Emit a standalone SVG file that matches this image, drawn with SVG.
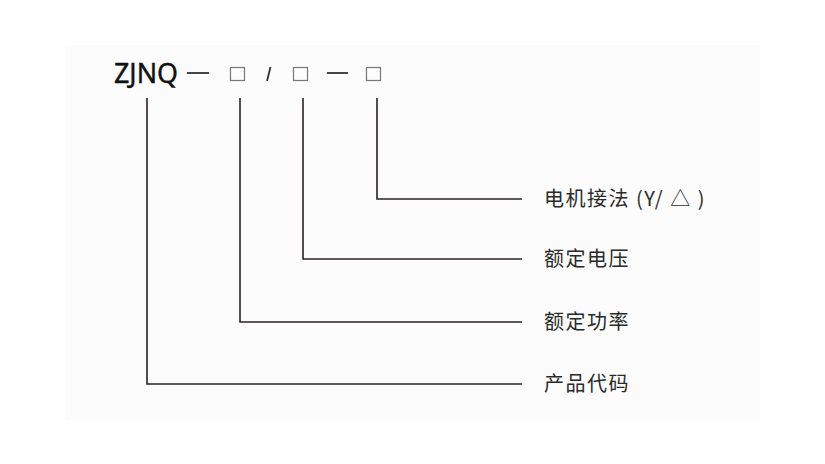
<svg xmlns="http://www.w3.org/2000/svg" width="825" height="464" viewBox="0 0 825 464">
<style>
.bg{fill:#ffffff}
.code{font-family:"Noto Sans","Liberation Sans",sans-serif;font-size:28px;fill:#111;stroke:#111;stroke-width:0.4}
.lbl{font-family:"Noto Sans CJK SC","Noto Sans",sans-serif;font-size:20px;fill:#2a2a2a;letter-spacing:1.5px}
.box{fill:none;stroke:#777;stroke-width:1.2}
.mark{stroke:#333;stroke-width:1.8;fill:none}
.conn{stroke:#2a2222;stroke-width:1.6;fill:none}
</style>
<rect class="bg" x="0" y="0" width="825" height="464"/>
<rect x="65" y="45" width="695" height="375" fill="#fcfcfc"/>
<g id="model-code">
<text class="code" x="114" y="83" textLength="64" lengthAdjust="spacingAndGlyphs">ZJNQ</text>
<line class="mark" x1="187" y1="73" x2="209" y2="73"/>
<rect class="box" x="230.5" y="67.5" width="14" height="13"/>
<line class="mark" x1="270.5" y1="67" x2="267" y2="81"/>
<rect class="box" x="293.5" y="67.5" width="14" height="13"/>
<line class="mark" x1="327" y1="73" x2="348" y2="73"/>
<rect class="box" x="366.5" y="67.5" width="14" height="13"/>
</g>
<g id="connectors">
<polyline class="conn" points="147,98 147,384 522,384"/>
<polyline class="conn" points="240,98 240,322 522,322"/>
<polyline class="conn" points="303,98 303,259 522,259"/>
<polyline class="conn" points="377,98 377,199 522,199"/>
</g>
<g id="label-connection">
<text class="lbl" x="544" y="206">电机接法 (Y/ △ )</text>
</g>
<g id="label-voltage">
<text class="lbl" x="544" y="266">额定电压</text>
</g>
<g id="label-power">
<text class="lbl" x="544" y="329">额定功率</text>
</g>
<g id="label-product">
<text class="lbl" x="544" y="391">产品代码</text>
</g>
</svg>
